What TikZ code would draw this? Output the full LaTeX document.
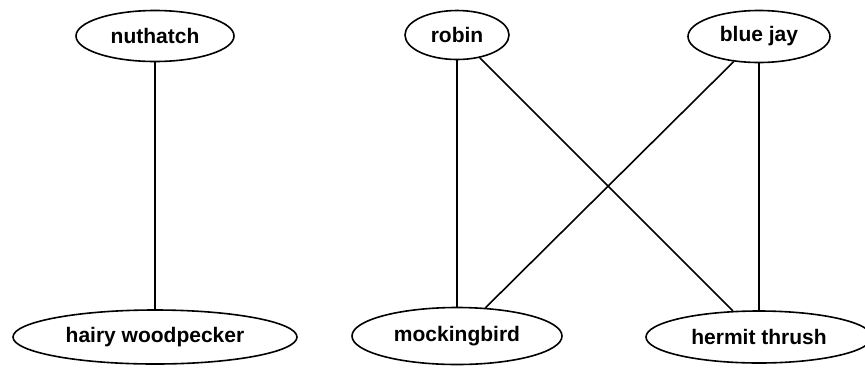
\documentclass[tikz,border=0pt]{standalone}
\usepackage{fontspec}
\setmainfont{Liberation Sans}
\usetikzlibrary{shapes.geometric}
\begin{document}
\begin{tikzpicture}[x=1pt,y=-1pt,
  bird/.style={ellipse, draw, line width=1.6pt, inner sep=0pt, font=\fontsize{21}{25}\selectfont\bfseries},
  link/.style={line width=1.6pt}]
\useasboundingbox (0,0) rectangle (865,368);
\node[bird, minimum width=158pt, minimum height=51pt] (nut) at (155,36) {nuthatch};
\node[bird, minimum width=284pt, minimum height=54pt] (hw) at (155,337) {hairy woodpecker};
\node[bird, minimum width=104pt, minimum height=49pt] (robin) at (457,35) {robin};
\node[bird, minimum width=142pt, minimum height=52pt] (bj) at (759,36.5) {blue jay};
\node[bird, minimum width=210pt, minimum height=57pt] (mock) at (457,336) {mockingbird};
\node[bird, minimum width=226pt, minimum height=52pt] (ht) at (759,337) {hermit thrush};
\draw[link] (nut) -- (hw);
\draw[link] (robin) -- (mock);
\draw[link] (robin) -- (ht);
\draw[link] (bj) -- (mock);
\draw[link] (bj) -- (ht);
\end{tikzpicture}
\end{document}
